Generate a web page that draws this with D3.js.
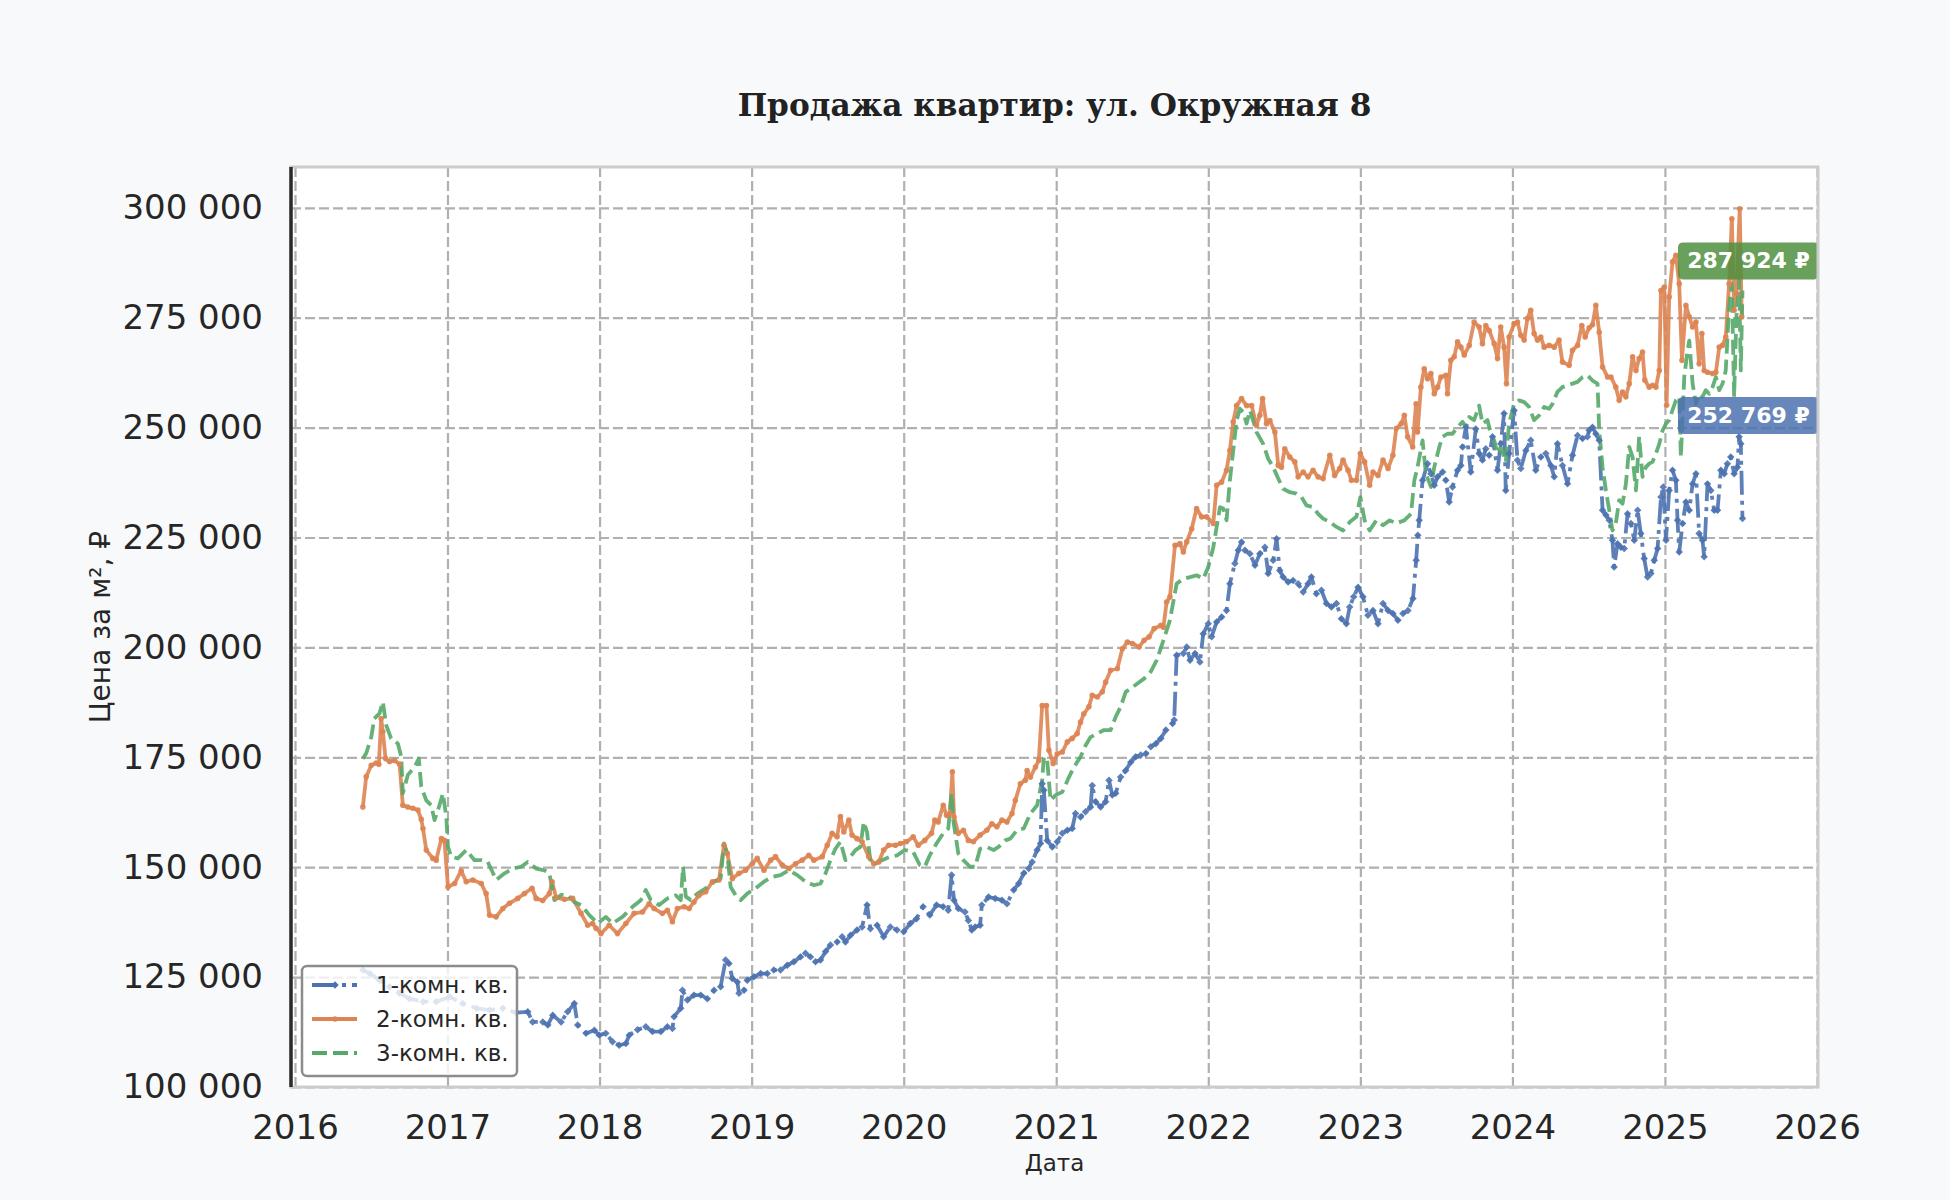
<!DOCTYPE html>
<html lang="ru">
<head>
    <meta charset="UTF-8">
    <title>Продажа квартир: ул. Окружная 8</title>
    <script src="https://cdnjs.cloudflare.com/ajax/libs/d3/7.8.5/d3.min.js"></script>
    <style>
        body { margin: 0; background: #f8f9fb; }
        svg { display: block; }
    </style>
</head>
<body>

<svg id="chart" width="1950" height="1200"></svg>

<script>
// x ticks (years) and y ticks (thousand rubles per m²)
const yearTicks = [2016, 2017, 2018, 2019, 2020, 2021, 2022, 2023, 2024, 2025, 2026];
const priceTicks = [100, 125, 150, 175, 200, 225, 250, 275, 300];

const seriesNames = ["1-комн. кв.", "2-комн. кв.", "3-комн. кв."];

// [decimal year, price in thousand ₽ per m²]
const oneRoom = [
  [2016.445,126.6],[2016.49,125.8],[2016.555,124.3],[2016.62,122.8],[2016.686,121.3],[2016.75,120.1],
  [2016.84,119.4],[2016.926,119.4],[2017.014,120.5],[2017.10,119.0],[2017.19,117.9],[2017.277,117.5],
  [2017.364,117.9],[2017.45,116.9],[2017.528,117.1],[2017.56,114.8],[2017.627,114.8],[2017.66,114.1],
  [2017.692,116.3],[2017.747,114.8],[2017.79,117.1],[2017.834,119.0],[2017.856,114.1],[2017.911,112.2],
  [2017.966,112.9],[2017.998,111.8],[2018.041,112.2],[2018.085,110.3],[2018.129,109.5],[2018.173,109.9],
  [2018.195,111.8],[2018.25,113.0],[2018.304,113.7],[2018.348,112.6],[2018.403,112.6],[2018.446,113.7],
  [2018.479,113.3],[2018.49,116.0],[2018.534,117.9],[2018.545,122.0],[2018.578,119.8],[2018.621,120.9],
  [2018.665,120.9],[2018.709,120.1],[2018.753,122.0],[2018.796,122.8],[2018.829,128.9],[2018.851,128.1],
  [2018.873,124.7],[2018.906,123.9],[2018.917,121.3],[2018.95,122.0],[2018.971,124.3],[2019.015,125.1],
  [2019.059,125.8],[2019.103,125.8],[2019.146,126.6],[2019.19,126.6],[2019.234,127.7],[2019.278,128.5],
  [2019.321,129.6],[2019.354,130.4],[2019.387,129.6],[2019.42,128.5],[2019.453,128.9],[2019.486,130.8],
  [2019.518,132.3],[2019.562,133.0],[2019.595,134.2],[2019.617,133.0],[2019.65,134.5],[2019.693,135.7],
  [2019.726,136.4],[2019.759,141.4],[2019.781,136.0],[2019.825,136.8],[2019.868,134.2],[2019.912,136.4],
  [2019.956,135.7],[2020.0,135.3],[2020.043,137.2],[2020.084,138.3],[2020.127,141.0],[2020.171,139.1],
  [2020.215,141.4],[2020.259,141.0],[2020.292,140.2],[2020.314,148.2],[2020.33,142.5],[2020.358,140.6],
  [2020.402,139.8],[2020.424,137.9],[2020.446,135.7],[2020.468,136.4],[2020.501,136.8],[2020.512,141.4],
  [2020.556,143.2],[2020.6,142.9],[2020.644,142.5],[2020.677,141.7],[2020.721,144.8],[2020.754,146.3],
  [2020.787,148.6],[2020.82,149.7],[2020.842,151.2],[2020.875,153.9],[2020.897,155.4],[2020.908,169.0],
  [2020.919,167.5],[2020.941,156.1],[2020.974,154.6],[2021.007,155.8],[2021.04,157.7],[2021.073,158.4],
  [2021.105,158.8],[2021.127,162.2],[2021.16,161.4],[2021.193,162.6],[2021.226,163.7],[2021.237,168.6],
  [2021.259,164.9],[2021.292,163.7],[2021.325,164.9],[2021.347,169.8],[2021.369,166.4],[2021.391,166.8],
  [2021.424,170.5],[2021.457,172.0],[2021.49,173.9],[2021.523,175.1],[2021.556,175.5],[2021.589,175.8],
  [2021.622,177.4],[2021.655,178.1],[2021.688,179.3],[2021.721,181.2],[2021.765,182.7],[2021.776,183.5],
  [2021.792,198.2],[2021.836,198.6],[2021.858,200.1],[2021.88,197.1],[2021.913,198.6],[2021.945,196.7],
  [2021.967,203.1],[2022.0,205.4],[2022.022,202.4],[2022.055,205.8],[2022.088,206.9],[2022.12,208.4],
  [2022.142,214.5],[2022.175,219.1],[2022.197,222.1],[2022.219,224.0],[2022.241,222.1],[2022.274,221.3],
  [2022.307,218.7],[2022.339,221.3],[2022.372,222.8],[2022.394,216.8],[2022.427,219.8],[2022.449,224.7],
  [2022.47,217.5],[2022.492,216.0],[2022.525,214.9],[2022.558,215.2],[2022.591,214.5],[2022.624,212.6],
  [2022.656,214.5],[2022.678,216.0],[2022.711,212.2],[2022.744,213.0],[2022.777,210.0],[2022.81,209.2],
  [2022.843,210.0],[2022.875,206.5],[2022.908,205.4],[2022.93,209.2],[2022.956,211.5],[2022.985,213.7],
  [2023.017,211.5],[2023.05,207.3],[2023.083,208.4],[2023.116,205.4],[2023.149,210.0],[2023.182,208.4],
  [2023.214,207.7],[2023.247,206.2],[2023.28,207.7],[2023.313,208.4],[2023.346,211.1],[2023.367,219.8],
  [2023.378,225.5],[2023.387,228.9],[2023.409,238.0],[2023.442,241.8],[2023.464,239.5],[2023.486,236.9],
  [2023.508,238.8],[2023.541,239.9],[2023.562,238.0],[2023.584,233.1],[2023.606,236.5],[2023.639,240.3],
  [2023.661,241.4],[2023.672,245.6],[2023.694,250.1],[2023.726,239.9],[2023.759,249.7],[2023.781,244.1],
  [2023.803,242.6],[2023.825,245.2],[2023.847,243.7],[2023.869,247.9],[2023.902,240.3],[2023.923,246.3],
  [2023.945,253.2],[2023.956,235.7],[2023.978,244.1],[2024.011,253.9],[2024.033,242.6],[2024.055,240.7],
  [2024.088,244.8],[2024.12,247.1],[2024.153,240.3],[2024.186,243.3],[2024.219,244.1],[2024.252,241.4],
  [2024.274,238.8],[2024.295,246.3],[2024.328,241.4],[2024.361,237.2],[2024.394,243.7],[2024.427,248.2],
  [2024.46,247.5],[2024.492,247.9],[2024.503,249.4],[2024.525,250.1],[2024.547,248.6],[2024.569,247.1],
  [2024.591,231.2],[2024.613,230.1],[2024.635,228.9],[2024.656,224.4],[2024.667,218.3],[2024.689,223.6],
  [2024.711,222.8],[2024.733,222.5],[2024.755,230.4],[2024.777,228.2],[2024.799,224.4],[2024.821,231.2],
  [2024.842,225.9],[2024.864,220.2],[2024.886,216.0],[2024.908,216.8],[2024.93,219.8],[2024.952,222.5],
  [2024.974,234.2],[2024.989,236.5],[2025.007,224.4],[2025.028,235.7],[2025.05,240.3],[2025.072,238.0],
  [2025.083,228.9],[2025.094,221.7],[2025.116,228.2],[2025.138,233.1],[2025.16,231.2],[2025.182,237.2],
  [2025.204,239.5],[2025.225,225.9],[2025.247,224.4],[2025.258,220.6],[2025.28,237.2],[2025.302,235.7],
  [2025.324,231.2],[2025.346,231.2],[2025.368,240.3],[2025.39,239.5],[2025.411,241.8],[2025.433,243.3],
  [2025.455,239.5],[2025.477,241.0],[2025.488,247.9],[2025.499,246.3],[2025.51,229.3]
];

const twoRoom = [
  [2016.445,163.7],[2016.467,170.6],[2016.50,173.2],[2016.532,173.7],[2016.55,173.4],[2016.565,183.8],
  [2016.576,180.8],[2016.594,174.7],[2016.62,174.0],[2016.653,174.3],[2016.686,173.4],[2016.707,164.1],
  [2016.74,163.7],[2016.773,163.4],[2016.806,163.0],[2016.828,160.9],[2016.839,158.8],[2016.861,153.9],
  [2016.904,152.0],[2016.926,151.6],[2016.96,156.5],[2016.98,156.1],[2017.003,145.5],[2017.047,146.3],
  [2017.09,149.2],[2017.123,146.7],[2017.167,147.1],[2017.222,146.3],[2017.254,144.0],[2017.276,139.1],
  [2017.32,138.7],[2017.364,140.6],[2017.408,141.8],[2017.462,142.9],[2017.506,144.0],[2017.556,145.2],
  [2017.583,142.9],[2017.626,142.4],[2017.67,144.0],[2017.688,146.7],[2017.714,143.1],[2017.769,142.7],
  [2017.823,142.9],[2017.878,139.5],[2017.922,136.8],[2017.954,137.2],[2017.977,136.1],[2018.009,134.9],
  [2018.063,136.8],[2018.118,134.9],[2018.173,137.2],[2018.227,139.5],[2018.282,139.8],[2018.326,141.7],
  [2018.359,140.6],[2018.413,139.5],[2018.446,140.2],[2018.479,137.6],[2018.512,140.6],[2018.556,141.0],
  [2018.589,140.6],[2018.621,142.1],[2018.654,143.6],[2018.698,144.4],[2018.742,146.7],[2018.785,147.1],
  [2018.818,155.0],[2018.84,153.1],[2018.873,147.4],[2018.917,148.6],[2018.96,149.3],[2019.004,150.8],
  [2019.037,152.0],[2019.081,149.3],[2019.125,151.6],[2019.157,152.4],[2019.201,150.5],[2019.245,149.7],
  [2019.289,150.8],[2019.332,151.6],[2019.376,152.7],[2019.409,151.6],[2019.464,152.4],[2019.497,155.0],
  [2019.529,157.7],[2019.562,156.9],[2019.584,161.5],[2019.606,158.0],[2019.639,160.7],[2019.66,157.3],
  [2019.693,156.5],[2019.726,155.8],[2019.77,152.4],[2019.803,150.8],[2019.836,151.2],[2019.868,153.9],
  [2019.901,155.0],[2019.945,155.0],[2019.978,155.4],[2020.018,155.8],[2020.062,156.9],[2020.095,155.0],
  [2020.138,156.1],[2020.182,157.7],[2020.204,160.7],[2020.226,160.3],[2020.259,164.1],[2020.281,161.8],
  [2020.303,162.2],[2020.319,171.7],[2020.33,161.4],[2020.358,157.7],[2020.391,158.4],[2020.424,156.1],
  [2020.457,155.8],[2020.501,157.3],[2020.545,158.4],[2020.578,159.9],[2020.611,159.2],[2020.644,160.7],
  [2020.677,160.3],[2020.71,162.2],[2020.732,165.2],[2020.765,169.0],[2020.798,169.8],[2020.809,172.0],
  [2020.831,170.5],[2020.864,172.8],[2020.886,174.3],[2020.908,186.8],[2020.936,186.8],[2020.952,176.6],
  [2020.98,173.6],[2021.007,175.8],[2021.04,176.2],[2021.073,178.5],[2021.105,179.3],[2021.138,180.4],
  [2021.16,183.0],[2021.182,184.9],[2021.215,186.5],[2021.237,189.1],[2021.27,188.7],[2021.303,189.9],
  [2021.325,192.1],[2021.358,194.8],[2021.402,195.2],[2021.435,199.7],[2021.468,201.2],[2021.501,200.9],
  [2021.545,200.1],[2021.578,201.6],[2021.611,202.4],[2021.644,204.3],[2021.688,205.0],[2021.705,204.6],
  [2021.726,210.3],[2021.748,211.5],[2021.781,223.2],[2021.814,223.6],[2021.836,221.7],[2021.858,224.0],
  [2021.891,227.0],[2021.923,231.6],[2021.956,229.7],[2021.989,229.7],[2022.033,228.2],[2022.055,236.9],
  [2022.088,237.6],[2022.12,240.3],[2022.142,244.8],[2022.164,251.3],[2022.186,255.0],[2022.219,256.6],
  [2022.252,255.0],[2022.285,255.0],[2022.317,250.5],[2022.339,252.8],[2022.357,256.6],[2022.383,250.9],
  [2022.405,251.6],[2022.438,249.0],[2022.46,241.4],[2022.481,241.0],[2022.503,245.2],[2022.536,243.3],
  [2022.569,242.2],[2022.591,238.8],[2022.624,239.9],[2022.656,238.8],[2022.689,240.3],[2022.722,238.8],
  [2022.755,238.4],[2022.799,243.7],[2022.831,239.1],[2022.864,240.7],[2022.886,242.6],[2022.919,240.3],
  [2022.941,238.0],[2022.974,238.0],[2023.0,244.1],[2023.028,242.2],[2023.061,236.9],[2023.083,239.9],
  [2023.116,239.1],[2023.149,242.6],[2023.182,240.7],[2023.214,243.7],[2023.236,249.8],[2023.269,250.9],
  [2023.289,252.8],[2023.311,247.9],[2023.344,245.6],[2023.366,255.4],[2023.376,249.0],[2023.398,259.2],
  [2023.42,263.4],[2023.442,261.1],[2023.464,262.3],[2023.486,257.7],[2023.508,259.2],[2023.53,261.5],
  [2023.562,261.9],[2023.573,257.7],[2023.595,265.3],[2023.617,266.1],[2023.639,269.5],[2023.661,268.3],
  [2023.683,266.5],[2023.716,268.7],[2023.748,274.0],[2023.781,272.9],[2023.803,269.1],[2023.825,273.2],
  [2023.847,272.1],[2023.88,269.1],[2023.902,265.7],[2023.923,272.9],[2023.945,268.3],[2023.961,260.0],
  [2023.978,270.6],[2024.011,273.6],[2024.033,274.0],[2024.055,271.0],[2024.077,269.9],[2024.098,274.8],
  [2024.12,276.7],[2024.142,271.4],[2024.164,269.9],[2024.186,270.6],[2024.208,268.3],[2024.241,268.7],
  [2024.274,268.3],[2024.306,269.9],[2024.328,264.9],[2024.372,264.2],[2024.394,267.6],[2024.427,268.7],
  [2024.455,273.2],[2024.477,270.6],[2024.503,272.7],[2024.525,273.4],[2024.547,277.8],[2024.569,271.7],
  [2024.591,263.8],[2024.624,261.5],[2024.646,261.5],[2024.678,259.2],[2024.7,256.2],[2024.722,258.1],
  [2024.744,257.0],[2024.766,260.0],[2024.788,266.1],[2024.81,263.0],[2024.831,265.7],[2024.853,267.2],
  [2024.868,260.8],[2024.897,259.2],[2024.919,259.6],[2024.941,259.2],[2024.963,263.0],[2024.974,281.2],
  [2024.996,282.0],[2025.011,255.1],[2025.028,279.7],[2025.05,287.7],[2025.072,289.2],[2025.094,282.7],
  [2025.112,265.3],[2025.138,277.8],[2025.16,275.2],[2025.182,272.9],[2025.204,274.0],[2025.225,264.5],
  [2025.243,271.4],[2025.258,263.0],[2025.28,262.6],[2025.313,262.3],[2025.335,262.6],[2025.357,268.3],
  [2025.379,268.7],[2025.4,270.6],[2025.422,282.7],[2025.44,297.5],[2025.455,276.7],[2025.47,280.5],
  [2025.492,299.8],[2025.505,275.2]
];

const threeRoom = [
  [2016.445,174.7],[2016.467,175.9],[2016.50,179.6],[2016.52,183.8],[2016.554,185.0],[2016.576,187.6],
  [2016.598,182.3],[2016.63,179.3],[2016.675,178.1],[2016.697,175.1],[2016.707,166.8],[2016.74,171.0],
  [2016.784,172.8],[2016.812,174.7],[2016.828,168.3],[2016.861,165.2],[2016.893,164.1],[2016.915,160.7],
  [2016.944,163.7],[2016.97,166.8],[2016.992,161.5],[2017.003,154.6],[2017.025,152.4],[2017.068,152.0],
  [2017.123,153.9],[2017.178,151.6],[2017.222,151.6],[2017.265,151.2],[2017.32,147.1],[2017.375,148.6],
  [2017.43,149.7],[2017.484,150.1],[2017.528,151.2],[2017.583,149.7],[2017.637,149.3],[2017.67,148.6],
  [2017.703,142.5],[2017.747,143.7],[2017.79,143.7],[2017.834,142.1],[2017.878,141.4],[2017.933,139.1],
  [2017.987,137.2],[2018.041,138.7],[2018.085,137.2],[2018.151,138.7],[2018.217,141.0],[2018.271,142.5],
  [2018.304,144.8],[2018.337,142.5],[2018.392,141.4],[2018.446,142.9],[2018.501,143.6],[2018.534,142.5],
  [2018.549,150.1],[2018.567,143.3],[2018.6,142.5],[2018.643,144.0],[2018.698,145.2],[2018.753,146.7],
  [2018.796,147.4],[2018.818,155.4],[2018.84,153.1],[2018.862,145.5],[2018.895,143.6],[2018.928,142.5],
  [2018.971,144.0],[2019.026,145.2],[2019.081,146.7],[2019.135,147.8],[2019.19,148.2],[2019.245,149.3],
  [2019.3,148.2],[2019.354,146.7],[2019.409,145.9],[2019.453,146.3],[2019.486,148.6],[2019.518,151.6],
  [2019.551,154.2],[2019.584,155.8],[2019.617,151.6],[2019.65,152.4],[2019.683,153.9],[2019.715,154.6],
  [2019.737,160.3],[2019.759,158.0],[2019.781,151.2],[2019.814,150.8],[2019.858,151.6],[2019.912,152.4],
  [2019.956,152.7],[2020.007,153.9],[2020.062,153.5],[2020.105,150.5],[2020.138,150.1],[2020.171,152.7],
  [2020.215,155.4],[2020.259,157.7],[2020.292,158.8],[2020.314,166.8],[2020.325,160.7],[2020.358,153.1],
  [2020.391,151.6],[2020.435,150.1],[2020.468,150.1],[2020.501,154.2],[2020.545,154.6],[2020.589,153.9],
  [2020.622,154.6],[2020.666,156.1],[2020.699,156.5],[2020.743,158.4],[2020.787,158.8],[2020.831,162.2],
  [2020.875,164.1],[2020.908,169.8],[2020.919,175.1],[2020.941,174.3],[2020.963,165.2],[2020.996,166.4],
  [2021.04,167.1],[2021.084,170.5],[2021.117,172.8],[2021.16,175.1],[2021.193,177.7],[2021.226,179.6],
  [2021.27,180.4],[2021.314,181.2],[2021.358,181.2],[2021.391,184.2],[2021.424,186.5],[2021.457,189.9],
  [2021.49,190.6],[2021.534,191.8],[2021.578,192.9],[2021.622,194.5],[2021.661,197.1],[2021.705,201.6],
  [2021.748,206.2],[2021.792,214.5],[2021.836,215.6],[2021.88,216.0],[2021.923,216.4],[2021.967,215.6],
  [2022.0,218.3],[2022.033,222.8],[2022.055,227.4],[2022.077,231.9],[2022.098,231.6],[2022.12,228.9],
  [2022.142,238.0],[2022.164,244.8],[2022.186,251.6],[2022.208,254.3],[2022.23,253.5],[2022.252,250.9],
  [2022.274,253.9],[2022.295,251.6],[2022.317,249.0],[2022.361,246.3],[2022.394,242.9],[2022.427,241.0],
  [2022.46,238.4],[2022.492,236.1],[2022.536,235.3],[2022.58,235.0],[2022.613,234.2],[2022.646,232.3],
  [2022.689,231.9],[2022.722,230.4],[2022.755,229.3],[2022.799,228.5],[2022.843,227.4],[2022.886,226.6],
  [2022.93,228.5],[2022.974,229.7],[2023.0,234.2],[2023.028,228.9],[2023.061,226.6],[2023.105,228.9],
  [2023.149,227.8],[2023.193,228.9],[2023.236,228.2],[2023.289,228.9],[2023.333,230.4],[2023.355,238.0],
  [2023.376,241.0],[2023.409,247.1],[2023.431,239.5],[2023.464,236.5],[2023.486,241.0],[2023.519,245.6],
  [2023.541,247.9],[2023.573,248.6],[2023.606,248.6],[2023.639,250.1],[2023.672,251.3],[2023.694,250.1],
  [2023.716,252.4],[2023.748,251.7],[2023.781,255.0],[2023.803,250.9],[2023.836,251.7],[2023.858,248.6],
  [2023.88,247.1],[2023.902,244.1],[2023.923,245.6],[2023.956,242.2],[2023.978,250.9],[2024.011,255.4],
  [2024.044,256.2],[2024.077,255.8],[2024.109,254.7],[2024.142,251.7],[2024.175,252.8],[2024.208,254.7],
  [2024.241,254.3],[2024.263,255.4],[2024.295,258.1],[2024.328,259.2],[2024.361,259.6],[2024.394,260.0],
  [2024.427,260.4],[2024.46,261.5],[2024.492,261.9],[2024.525,260.7],[2024.558,260.0],[2024.569,249.4],
  [2024.591,241.0],[2024.613,235.7],[2024.635,231.2],[2024.656,226.6],[2024.678,228.2],[2024.7,233.5],
  [2024.722,232.7],[2024.744,237.2],[2024.766,245.6],[2024.788,243.3],[2024.81,235.7],[2024.831,247.9],
  [2024.853,238.8],[2024.875,241.0],[2024.897,241.8],[2024.919,242.2],[2024.941,244.1],[2024.963,246.3],
  [2024.985,249.4],[2025.007,250.9],[2025.028,251.7],[2025.05,254.0],[2025.072,256.2],[2025.094,257.0],
  [2025.105,243.3],[2025.127,261.5],[2025.149,267.6],[2025.16,269.8],[2025.182,260.0],[2025.204,255.4],
  [2025.225,257.7],[2025.247,257.0],[2025.269,258.5],[2025.291,257.7],[2025.313,259.2],[2025.335,261.5],
  [2025.357,258.5],[2025.379,260.0],[2025.4,263.0],[2025.422,277.4],[2025.44,282.7],[2025.455,257.0],
  [2025.47,275.2],[2025.488,283.5],[2025.499,263.0],[2025.51,281.2]
];

// labelled last values (₽ per m²)
const lastLabelValues = [287924, 252769];
const lastLabelColors = ["#4f8f3f", "#4c72b0"];

const colors = ["#4c72b0", "#dd8452", "#55a868"];

const svg = d3.select("#chart");
const W = 1950, H = 1200;
const frame = { left: 291, right: 1818, top: 167, bottom: 1087 };

const ru = d3.formatLocale({ decimal: ",", thousands: " ", grouping: [3], currency: ["", " ₽"] });
const fmt = ru.format(",.0f");

function toDate(y) {
    const yr = Math.floor(y);
    const a = new Date(yr, 0, 1), b = new Date(yr + 1, 0, 1);
    return new Date(+a + (y - yr) * (b - a));
}

const x = d3.scaleTime()
    .domain([new Date(2016, 0, 1), new Date(2026, 0, 1)])
    .range([295, 1817]);
const y = d3.scaleLinear()
    .domain([100, 100 + (frame.bottom - frame.top) / 109.9 * 25])
    .range([frame.bottom, frame.top]);

svg.append("rect").attr("width", W).attr("height", H).attr("fill", "#f8f9fb");
svg.append("rect")
    .attr("x", frame.left).attr("y", frame.top)
    .attr("width", frame.right - frame.left).attr("height", frame.bottom - frame.top)
    .attr("fill", "#ffffff");

// grid
const gridX = svg.append("g")
    .attr("transform", `translate(0,${frame.bottom})`)
    .call(d3.axisBottom(x).tickValues(yearTicks.map(d => new Date(d, 0, 1)))
        .tickSize(-(frame.bottom - frame.top)).tickFormat(""));
const gridY = svg.append("g")
    .attr("transform", `translate(${frame.left},0)`)
    .call(d3.axisLeft(y).tickValues(priceTicks)
        .tickSize(-(frame.right - frame.left)).tickFormat(""));
[gridX, gridY].forEach(g => {
    g.select(".domain").remove();
    g.selectAll("line")
        .attr("stroke", "#b0b0b0")
        .attr("stroke-width", 2.2)
        .attr("stroke-dasharray", "10,4");
});

// axes labels
const axX = svg.append("g")
    .attr("transform", `translate(0,${frame.bottom})`)
    .call(d3.axisBottom(x).tickValues(yearTicks.map(d => new Date(d, 0, 1)))
        .tickSize(0).tickPadding(28).tickFormat(d3.timeFormat("%Y")));
const axY = svg.append("g")
    .attr("transform", `translate(${frame.left},0)`)
    .call(d3.axisLeft(y).tickValues(priceTicks)
        .tickSize(0).tickPadding(28).tickFormat(d => fmt(d * 1000)));
[axX, axY].forEach(g => {
    g.select(".domain").remove();
    g.selectAll("text")
        .attr("font-family", "DejaVu Sans")
        .attr("font-size", 34)
        .attr("fill", "#262626");
});

// lines
const line = d3.line()
    .x(d => x(toDate(d[0])))
    .y(d => y(d[1]));

const styles = [
    { data: oneRoom, dash: "24,6,4,6" },
    { data: twoRoom, dash: null },
    { data: threeRoom, dash: "15,6" }
];

styles.forEach((s, i) => {
    svg.append("path")
        .datum(s.data)
        .attr("fill", "none")
        .attr("stroke", colors[i])
        .attr("stroke-width", 3.8)
        .attr("stroke-opacity", 0.9)
        .attr("stroke-linejoin", "round")
        .attr("stroke-dasharray", s.dash)
        .attr("d", line);
});

svg.append("g").selectAll("path")
    .data(oneRoom)
    .join("path")
    .attr("d", d3.symbol(d3.symbolSquare, 28)())
    .attr("transform", d => `translate(${x(toDate(d[0]))},${y(d[1])}) rotate(45)`)
    .attr("fill", colors[0])
    .attr("fill-opacity", 0.9);

svg.append("g").selectAll("circle")
    .data(twoRoom)
    .join("circle")
    .attr("cx", d => x(toDate(d[0])))
    .attr("cy", d => y(d[1]))
    .attr("r", 2.8)
    .attr("fill", colors[1])
    .attr("fill-opacity", 0.9);

// last value labels
const lastDate = toDate(threeRoom[threeRoom.length - 1][0]);
const tags = svg.append("g").selectAll("g")
    .data(lastLabelValues)
    .join("g")
    .attr("transform", d => `translate(${x(lastDate) + 6},${y(d / 1000)})`);
tags.append("rect")
    .attr("x", -70.5).attr("y", -18.5)
    .attr("width", 141).attr("height", 37)
    .attr("rx", 5)
    .attr("fill", (d, i) => lastLabelColors[i])
    .attr("fill-opacity", 0.85);
tags.append("text")
    .attr("text-anchor", "middle")
    .attr("dominant-baseline", "central")
    .attr("font-family", "DejaVu Sans")
    .attr("font-weight", "bold")
    .attr("font-size", 22)
    .attr("fill", "#ffffff")
    .text(d => fmt(d) + " ₽");

// frame
svg.append("rect")
    .attr("x", frame.left).attr("y", frame.top)
    .attr("width", frame.right - frame.left).attr("height", frame.bottom - frame.top)
    .attr("fill", "none")
    .attr("stroke", "#cccccc")
    .attr("stroke-width", 3);
svg.append("line")
    .attr("x1", frame.left).attr("x2", frame.left)
    .attr("y1", frame.top).attr("y2", frame.bottom)
    .attr("stroke", "#2b2b2b")
    .attr("stroke-width", 3.5);

// legend
const lg = svg.append("g").attr("transform", "translate(302,966)");
lg.append("rect")
    .attr("width", 215).attr("height", 110).attr("rx", 5)
    .attr("fill", "#ffffff").attr("fill-opacity", 0.8)
    .attr("stroke", "#8c8c8c").attr("stroke-width", 2.5);
seriesNames.forEach((name, i) => {
    const row = lg.append("g").attr("transform", `translate(0,${19 + i * 34})`);
    row.append("line")
        .attr("x1", 10).attr("x2", 55)
        .attr("stroke", colors[i]).attr("stroke-width", 3.8)
        .attr("stroke-dasharray", styles[i].dash);
    if (i === 0) {
        row.append("path")
            .attr("d", d3.symbol(d3.symbolSquare, 28)())
            .attr("transform", "translate(33,0) rotate(45)")
            .attr("fill", colors[0]);
    }
    if (i === 1) {
        row.append("circle").attr("cx", 33).attr("r", 2.8).attr("fill", colors[1]);
    }
    row.append("text")
        .attr("x", 74)
        .attr("dominant-baseline", "central")
        .attr("font-family", "DejaVu Sans")
        .attr("font-size", 23)
        .attr("fill", "#262626")
        .text(name);
});

// titles
svg.append("text")
    .attr("x", (frame.left + frame.right) / 2).attr("y", 116)
    .attr("text-anchor", "middle")
    .attr("font-family", "DejaVu Serif")
    .attr("font-weight", "bold")
    .attr("font-size", 31.2)
    .attr("fill", "#222222")
    .text("Продажа квартир: ул. Окружная 8");

svg.append("text")
    .attr("x", (frame.left + frame.right) / 2).attr("y", 1171)
    .attr("text-anchor", "middle")
    .attr("font-family", "DejaVu Sans")
    .attr("font-size", 23)
    .attr("fill", "#262626")
    .text("Дата");

svg.append("text")
    .attr("transform", `translate(110,${(frame.top + frame.bottom) / 2}) rotate(-90)`)
    .attr("text-anchor", "middle")
    .attr("font-family", "DejaVu Sans")
    .attr("font-size", 28)
    .attr("fill", "#262626")
    .text("Цена за м², ₽");
</script>
</body>
</html>
